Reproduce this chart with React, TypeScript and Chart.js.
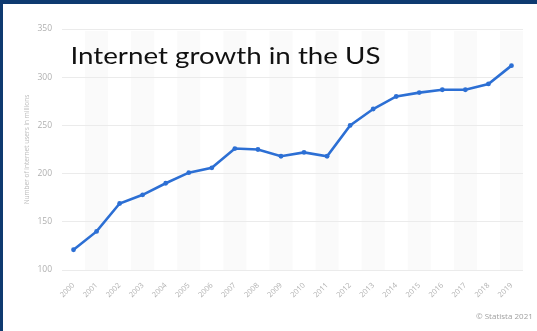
import React, { useEffect, useRef } from "react";
import { Chart, registerables } from "chart.js";

Chart.register(...registerables);

const years = ["2000", "2001", "2002", "2003", "2004", "2005", "2006", "2007", "2008", "2009", "2010", "2011", "2012", "2013", "2014", "2015", "2016", "2017", "2018", "2019"];
const users = [121, 140, 169, 178, 190, 201, 206, 226, 225, 218, 222, 218, 250, 267, 280, 284, 287, 287, 293, 312];
const yMin = 100;
const yMax = 350;
const yStep = 50;
const chartTitle = "Internet growth in the US";
const yAxisTitle = "Number of internet users in millions";
const footerText = "© Statista 2021";

const decorPlugin = {
  id: "decor",
  beforeDraw(chart: any) {
    const { ctx, chartArea } = chart;
    const xs = chart.scales.x;
    const step = (chartArea.right - chartArea.left) / years.length;
    ctx.save();
    ctx.fillStyle = "#fafafa";
    for (let i = 1; i < years.length; i += 2) {
      const cx = xs.getPixelForValue(i);
      ctx.fillRect(cx - step / 2, chartArea.top + 2, step, chartArea.bottom - chartArea.top - 2);
    }
    ctx.restore();
  },
  afterDraw(chart: any) {
    const { ctx } = chart;
    ctx.save();
    ctx.font = "23px Lato";
    ctx.fillStyle = "#111111";
    ctx.textBaseline = "alphabetic";
    ctx.textAlign = "left";
    const w = ctx.measureText(chartTitle).width;
    const sx = 310 / w;
    ctx.translate(67.5, 60);
    ctx.scale(sx, 1);
    ctx.fillText(chartTitle, 0, 0);
    ctx.restore();
    ctx.save();
    ctx.font = "8px 'Open Sans'";
    ctx.fillStyle = "#a0a0a0";
    ctx.textBaseline = "alphabetic";
    ctx.textAlign = "left";
    ctx.fillText(footerText, 473, 315);
    ctx.restore();
  },
};

export default function App() {
  const ref = useRef<HTMLCanvasElement | null>(null);
  useEffect(() => {
    if (!ref.current) return;
    Chart.defaults.font.family = "'Open Sans'";
    const chart = new Chart(ref.current, {
      type: "line",
      data: {
        labels: years,
        datasets: [
          {
            data: users,
            borderColor: "#2c6fd4",
            backgroundColor: "#2c6fd4",
            borderWidth: 2.6,
            pointRadius: 2.4,
            pointBorderWidth: 0,
            pointBackgroundColor: "#2c6fd4",
            tension: 0,
          },
        ],
      },
      options: {
        responsive: false,
        animation: false,
        layout: { padding: { top: 25, right: 14, left: 0, bottom: 0 } },
        plugins: { legend: { display: false }, tooltip: { enabled: false }, title: { display: false } },
        scales: {
          x: {
            offset: true,
            grid: { display: false, drawTicks: false },
            border: { display: false },
            ticks: {
              autoSkip: false,
              minRotation: 45,
              maxRotation: 45,
              padding: 11,
              color: "#b0b0b0",
              font: { size: 7.5 },
            },
            afterFit: (s: any) => {
              s.height = 61;
            },
          },
          y: {
            min: yMin,
            max: yMax,
            grid: { color: "#ebebeb", lineWidth: 1, drawTicks: false },
            border: { display: false },
            ticks: {
              stepSize: yStep,
              padding: 10,
              color: "#b0b0b0",
              font: { size: 8.5 },
            },
            title: {
              display: true,
              text: yAxisTitle,
              color: "#bdbdbd",
              font: { size: 6.5 },
              padding: { top: 20, bottom: 0 },
            },
            afterFit: (s: any) => {
              s.width = 59;
            },
          },
        },
      },
      plugins: [decorPlugin],
    });
    return () => chart.destroy();
  }, []);

  return (
    <div
      style={{
        position: "fixed",
        left: 0,
        top: 0,
        width: 537,
        height: 331,
        boxSizing: "border-box",
        borderTop: "4px solid #0e3a70",
        borderLeft: "3px solid #0e3a70",
        background: "#ffffff",
        overflow: "hidden",
      }}
    >
      <canvas ref={ref} width={534} height={327} style={{ display: "block" }} />
    </div>
  );
}
